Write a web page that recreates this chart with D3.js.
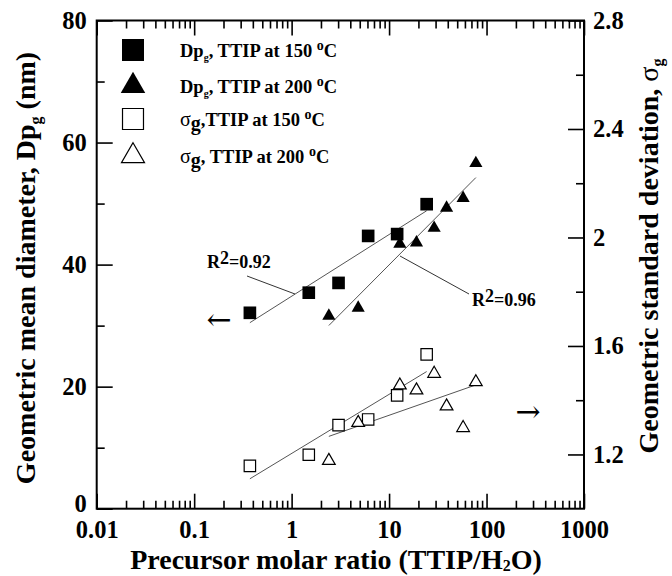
<!DOCTYPE html>
<html><head><meta charset="utf-8">
<script src="https://cdn.jsdelivr.net/npm/d3@7"></script>
<style>
body{margin:0;background:#fff;}
svg text{font-family:"Liberation Serif","Times New Roman",serif;font-weight:bold;fill:#000;}
</style></head>
<body><svg id="c" width="672" height="576"></svg>
<script>
// ---- data ----
const ratio150 = [0.373, 1.50, 3.03, 6.1, 12.1, 24.3];
const dp150    = [32.1, 35.4, 37.0, 44.7, 45.0, 49.9];
const sg150    = [1.158, 1.199, 1.308, 1.329, 1.418, 1.569];
const ratio200 = [2.41, 4.82, 12.9, 19.1, 29.0, 38.9, 57.5, 77.7];
const dp200    = [31.6, 32.9, 43.4, 43.6, 46.0, 49.3, 50.9, 56.6];
const sg200    = [1.177, 1.317, 1.455, 1.437, 1.498, 1.378, 1.298, 1.467];
const xTickLabels = ["0.01","0.1","1","10","100","1000"];
const yLeftTicks = [0,20,40,60,80];
const yRightTicks = [1.2,1.6,2.0,2.4,2.8];

const svg = d3.select("#c");
const L=96.7, R=584, T=20.5, B=508.7;
const x = d3.scaleLog().domain([0.01,1000]).range([L,R]);
const yL = d3.scaleLinear().domain([0,80]).range([B,T]);
const yR = d3.scaleLinear().domain([1,2.8]).range([B,T]);

const majorX = xTickLabels.map(Number);
const minorX = [];
for (let e=-2;e<3;e++) for (let m=2;m<10;m++) minorX.push(m*Math.pow(10,e));

function styleAxis(g){
  g.select(".domain").remove();
  g.selectAll("line").attr("stroke","#000").attr("stroke-width",1.6);
  g.selectAll("text").style("font-size","24.5px");
}
// bottom axis
svg.append("g").attr("transform",`translate(0,${B})`)
  .call(d3.axisBottom(x).tickValues(majorX).tickSize(-15).tickPadding(12).tickFormat((d,i)=>xTickLabels[i]))
  .call(styleAxis);
svg.append("g").attr("transform",`translate(0,${B})`)
  .call(d3.axisBottom(x).tickValues(minorX).tickSize(-8).tickFormat(""))
  .call(styleAxis);
// top axis
svg.append("g").attr("transform",`translate(0,${T})`)
  .call(d3.axisTop(x).tickValues(majorX).tickSize(-15).tickFormat(""))
  .call(styleAxis);
svg.append("g").attr("transform",`translate(0,${T})`)
  .call(d3.axisTop(x).tickValues(minorX).tickSize(-8).tickFormat(""))
  .call(styleAxis);
// left axis
const la = svg.append("g").attr("transform",`translate(${L},0)`)
  .call(d3.axisLeft(yL).tickValues(yLeftTicks).tickSize(-16).tickPadding(10).tickFormat(d3.format("d")))
  .call(styleAxis);
la.selectAll(".tick").filter(d=>d===0).select("text").attr("y",-5);
svg.append("g").attr("transform",`translate(${L},0)`)
  .call(d3.axisLeft(yL).tickValues([10,30,50,70]).tickSize(-8).tickFormat(""))
  .call(styleAxis);
// right axis
svg.append("g").attr("transform",`translate(${R},0)`)
  .call(d3.axisRight(yR).tickValues(yRightTicks).tickSize(-16).tickPadding(9).tickFormat(d=>d===2?"2":d3.format(".1f")(d)))
  .call(styleAxis);
svg.append("g").attr("transform",`translate(${R},0)`)
  .call(d3.axisRight(yR).tickValues([1.4,1.8,2.2,2.6]).tickSize(-8).tickFormat(""))
  .call(styleAxis);
// frame
svg.append("rect").attr("x",L).attr("y",T).attr("width",R-L).attr("height",B-T)
  .attr("fill","none").attr("stroke","#000").attr("stroke-width",2);

// regression lines (least squares in log10 x)
function fit(xs, ys, yScale){
  const lx = xs.map(Math.log10);
  const mx = d3.mean(lx), my = d3.mean(ys);
  const b = d3.sum(lx.map((v,i)=>(v-mx)*(ys[i]-my)))/d3.sum(lx.map(v=>(v-mx)*(v-mx)));
  const a = my - b*mx;
  const x0 = d3.min(xs), x1 = d3.max(xs);
  svg.append("line").attr("x1",x(x0)).attr("x2",x(x1))
    .attr("y1",yScale(a+b*Math.log10(x0))).attr("y2",yScale(a+b*Math.log10(x1)))
    .attr("stroke","#555").attr("stroke-width",1);
}
fit(ratio150, dp150, yL);
fit(ratio200, dp200, yL);
fit(ratio150, sg150, yR);
fit(ratio200, sg200, yR);

const sq = d3.symbol().type(d3.symbolSquare);
const tri = d3.symbol().type(d3.symbolTriangle);
function pts(xs, ys, yScale, sym, size, filled){
  svg.append("g").selectAll("path").data(xs).join("path")
    .attr("d", sym.size(size))
    .attr("transform",(d,i)=>`translate(${x(d)},${yScale(ys[i])})`)
    .attr("fill", filled?"#000":"#fff")
    .attr("stroke","#000").attr("stroke-width", filled?0:1.2);
}
pts(ratio150, sg150, yR, sq, 130, false);
pts(ratio200, sg200, yR, tri, 70, false);
pts(ratio150, dp150, yL, sq, 160, true);
pts(ratio200, dp200, yL, tri, 75, true);

// legend
const leg = [
  {sym:sq, size:484, filled:true, y:50},
  {sym:tri, size:260, filled:true, y:86},
  {sym:sq, size:440, filled:false, y:119},
  {sym:tri, size:230, filled:false, y:156}
];
leg.forEach(d=>{
  svg.append("path").attr("d",d.sym.size(d.size)).attr("transform",`translate(133,${d.y})`)
    .attr("fill",d.filled?"#000":"#fff").attr("stroke","#000").attr("stroke-width",d.filled?0:1.2);
});
function legText(y, sigma, sep, temp){
  const t = svg.append("text").attr("x",180).attr("y",y+7).style("font-size","18.5px");
  if (sigma){
    t.append("tspan").text("σ").style("font-weight","normal").style("font-size","20px");
    t.append("tspan").text("g").attr("dy",4).style("font-size","20px");
    t.append("tspan").text(sep+"TTIP at "+temp+" ").attr("dy",-4);
  } else {
    t.append("tspan").text("Dp");
    t.append("tspan").text("g").attr("dy",4).style("font-size","10px");
    t.append("tspan").text(sep+"TTIP at "+temp+" ").attr("dy",-4);
  }
  t.append("tspan").text("o").attr("dy",-7).style("font-size","14px");
  t.append("tspan").text("C").attr("dy",7);
}
legText(50,false,", ","150");
legText(86,false,", ","200");
legText(119,true,",","150");
legText(156,true,", ","200");

// annotations
function r2(xp, yp, val){
  const t = svg.append("text").attr("x",xp).attr("y",yp).style("font-size","18px");
  t.append("tspan").text("R");
  t.append("tspan").text("2").attr("dy",-4);
  t.append("tspan").text("="+val).attr("dy",4);
}
r2(207, 268, "0.92");
r2(472, 306, "0.96");
svg.append("line").attr("x1",247).attr("y1",276).attr("x2",295).attr("y2",294).attr("stroke","#333").attr("stroke-width",1);
svg.append("line").attr("x1",400).attr("y1",256).attr("x2",469).attr("y2",294).attr("stroke","#333").attr("stroke-width",1);
svg.append("text").attr("x",219).attr("y",319).attr("text-anchor","middle").attr("dominant-baseline","central")
  .style("font-size","30px").style("font-weight","normal").style("font-family","DejaVu Serif").text("←");
svg.append("text").attr("x",528).attr("y",411).attr("text-anchor","middle").attr("dominant-baseline","central")
  .style("font-size","30px").style("font-weight","normal").style("font-family","DejaVu Serif").text("→");

// axis titles
const xt = svg.append("text").attr("x",336).attr("y",569).attr("text-anchor","middle").style("font-size","28px");
xt.append("tspan").text("Precursor molar ratio (TTIP/H");
xt.append("tspan").text("2").attr("dy",2).style("font-size","16px");
xt.append("tspan").text("O)").attr("dy",-2);

const yt = svg.append("text").attr("transform",`translate(35,268) rotate(-90)`).attr("text-anchor","middle").style("font-size","28px");
yt.append("tspan").text("Geometric mean diameter, Dp");
yt.append("tspan").text("g").attr("dy",6).style("font-size","16px");
yt.append("tspan").text(" (nm)").attr("dy",-6);

const yt2 = svg.append("text").attr("transform",`translate(658,256) rotate(-90)`).attr("text-anchor","middle").style("font-size","28px");
yt2.append("tspan").text("Geometric standard deviation, ");
yt2.append("tspan").text("σ").style("font-weight","normal");
yt2.append("tspan").text("g").attr("dy",5).style("font-size","16px");
</script></body></html>
